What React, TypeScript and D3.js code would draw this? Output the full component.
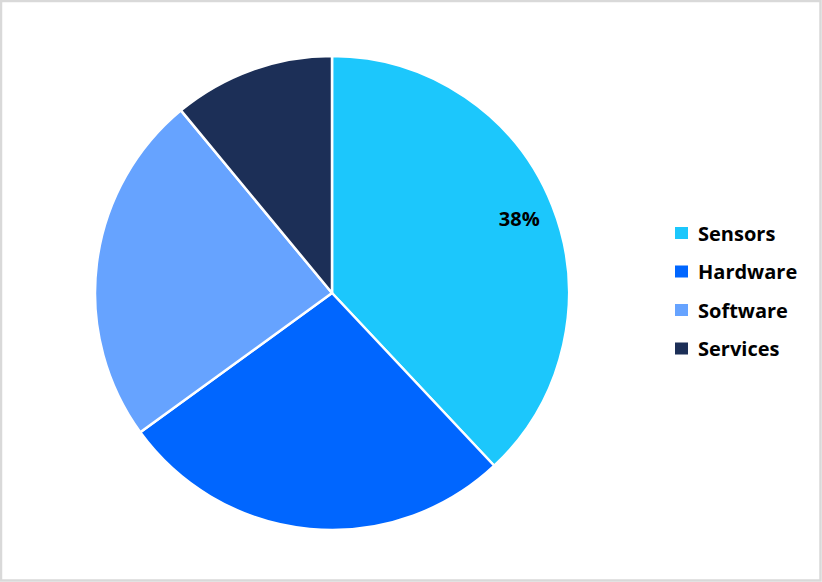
import * as React from "react";
import * as d3 from "d3";

const categories = ["Sensors", "Hardware", "Software", "Services"];
const shares = [38, 27, 24, 11];
const colors = ["#1cc7fc", "#0066ff", "#66a3ff", "#1c2f57"];
const labelled = ["Sensors"];

const W = 822;
const H = 582;

export default function App() {
  const ref = React.useRef<SVGSVGElement | null>(null);

  React.useEffect(() => {
    const svg = d3.select(ref.current);
    svg.selectAll("*").remove();

    svg
      .append("rect")
      .attr("x", 1)
      .attr("y", 1)
      .attr("width", W - 2.5)
      .attr("height", H - 2.5)
      .attr("fill", "#fff")
      .attr("stroke", "#d9d9d9")
      .attr("stroke-width", 2.5);

    const cx = 332;
    const cy = 293;
    const r = 237;

    const pie = d3
      .pie<number>()
      .sort(null)
      .value((d) => d);
    const arcs = pie(shares);
    const arc = d3.arc<d3.PieArcDatum<number>>().innerRadius(0).outerRadius(r);

    const g = svg.append("g").attr("transform", `translate(${cx},${cy})`);
    g.selectAll("path.slice")
      .data(arcs)
      .enter()
      .append("path")
      .attr("class", "slice")
      .attr("d", arc)
      .attr("fill", (_, i) => colors[i])
      .attr("stroke", "#fff")
      .attr("stroke-width", 2.5)
      .attr("stroke-linejoin", "round");

    // data label only on the largest slice
    const labelArc = d3
      .arc<d3.PieArcDatum<number>>()
      .innerRadius(r * 0.85)
      .outerRadius(r * 0.85);
    g.selectAll("text.lbl")
      .data(arcs.filter((_, i) => labelled.includes(categories[i])))
      .enter()
      .append("text")
      .attr("class", "lbl")
      .attr("transform", (d) => `translate(${labelArc.centroid(d)})`)
      .attr("text-anchor", "middle")
      .attr("dominant-baseline", "central")
      .attr("font-family", "'Open Sans', sans-serif")
      .attr("font-weight", "bold")
      .attr("font-size", 20)
      .attr("fill", "#000")
      .text((d) => `${d.data}%`);

    // legend
    const legend = svg.append("g").attr("transform", "translate(675,233)");
    const row = legend
      .selectAll("g")
      .data(categories)
      .enter()
      .append("g")
      .attr("transform", (_, i) => `translate(0,${i * 38.5})`);
    row
      .append("rect")
      .attr("x", 0)
      .attr("y", -6)
      .attr("width", 13)
      .attr("height", 12)
      .attr("fill", (_, i) => colors[i]);
    row
      .append("text")
      .attr("x", 23)
      .attr("y", 0)
      .attr("dominant-baseline", "central")
      .attr("font-family", "'Open Sans', sans-serif")
      .attr("font-weight", "bold")
      .attr("font-size", 20)
      .attr("fill", "#000")
      .text((d) => d);
  }, []);

  return (
    <svg
      ref={ref}
      width={W}
      height={H}
      style={{ position: "absolute", left: 0, top: 0 }}
    />
  );
}
